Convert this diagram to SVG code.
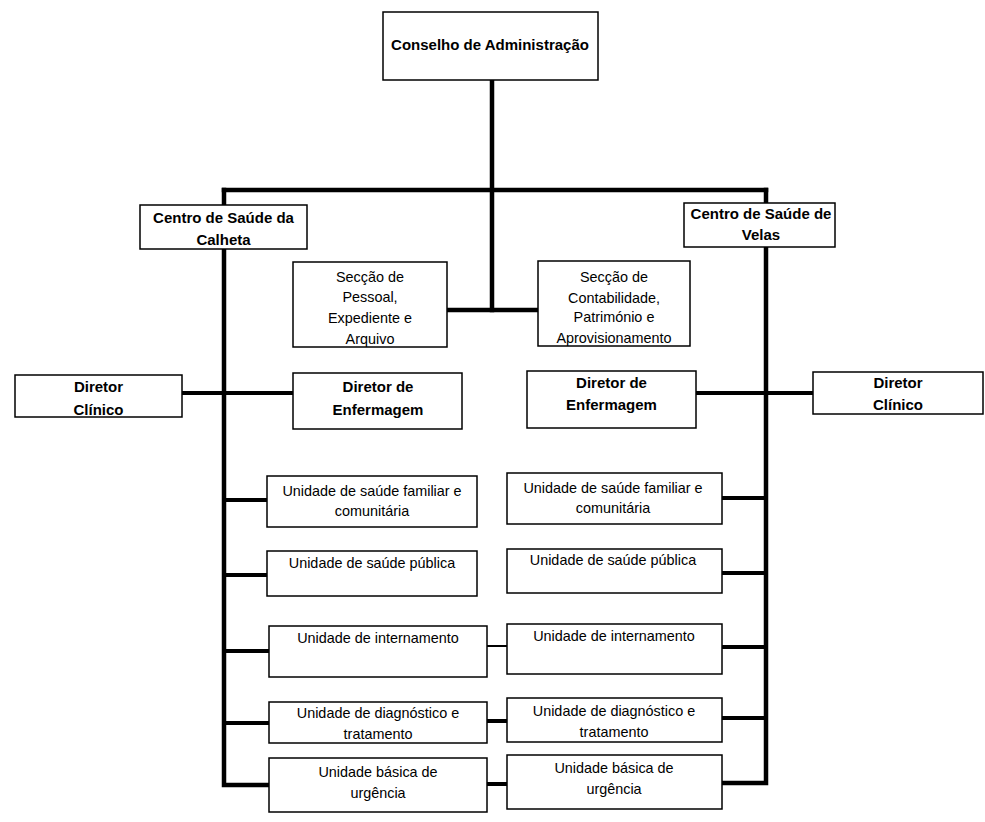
<svg xmlns="http://www.w3.org/2000/svg" width="985" height="822" viewBox="0 0 985 822">
<style>
.box{fill:#fff;stroke:#000;stroke-width:1.5}
.b{font-family:"Liberation Sans",Arial,sans-serif;font-weight:bold;font-size:15px;text-anchor:middle;fill:#000}
.r{font-family:"Liberation Sans",Arial,sans-serif;font-size:14.4px;text-anchor:middle;fill:#000}
.thick{fill:none;stroke:#000;stroke-width:4.5;stroke-linecap:square;stroke-linejoin:miter}
.med{fill:none;stroke:#000;stroke-width:4}
.thin{fill:none;stroke:#000;stroke-width:2}
</style>
<rect width="985" height="822" fill="#fff"/>
<g id="connectors">
<path class="thick" d="M492 80 V310"/>
<path class="thick" d="M224 190 H766"/>
<path class="thick" d="M224 190 V785 H269"/>
<path class="thick" d="M766 190 V783 H722"/>
<path class="thick" d="M447 310 H538"/>
<path class="med" d="M182 393 H293"/>
<path class="med" d="M696 393 H813"/>
<path class="med" d="M224 500 H267"/>
<path class="med" d="M224 575 H267"/>
<path class="med" d="M224 651 H269"/>
<path class="med" d="M224 723 H269"/>
<path class="med" d="M722 498 H766"/>
<path class="med" d="M722 573 H766"/>
<path class="med" d="M722 647 H766"/>
<path class="med" d="M722 718 H766"/>
<path class="thin" d="M487 646 H507"/>
<path class="med" d="M487 721 H507"/>
<path class="med" d="M487 784 H507"/>
</g>
<g id="conselho">
<rect class="box" x="383" y="12" width="215" height="68"/>
<text class="b" x="490" y="50">Conselho de Administração</text>
</g>
<g id="cs-calheta">
<rect class="box" x="140" y="205" width="167" height="44"/>
<text class="b" x="223.5" y="223">Centro de Saúde da</text>
<text class="b" x="223.5" y="245">Calheta</text>
</g>
<g id="cs-velas">
<rect class="box" x="684" y="203" width="151" height="44"/>
<text class="b" x="761" y="219">Centro de Saúde de</text>
<text class="b" x="761" y="240">Velas</text>
</g>
<g id="seccao-pessoal">
<rect class="box" x="293" y="262" width="154" height="85"/>
<text class="r" x="370" y="282">Secção de</text>
<text class="r" x="370" y="302">Pessoal,</text>
<text class="r" x="370" y="323">Expediente e</text>
<text class="r" x="370" y="344">Arquivo</text>
</g>
<g id="seccao-contabilidade">
<rect class="box" x="538" y="261" width="152" height="85"/>
<text class="r" x="614" y="282">Secção de</text>
<text class="r" x="614" y="303">Contabilidade,</text>
<text class="r" x="614" y="322">Património e</text>
<text class="r" x="614" y="343">Aprovisionamento</text>
</g>
<g id="diretor-clinico-calheta">
<rect class="box" x="15" y="375" width="167" height="42"/>
<text class="b" x="98.5" y="392">Diretor</text>
<text class="b" x="98.5" y="415">Clínico</text>
</g>
<g id="diretor-enfermagem-calheta">
<rect class="box" x="293" y="373" width="169" height="56"/>
<text class="b" x="378" y="392">Diretor de</text>
<text class="b" x="378" y="415">Enfermagem</text>
</g>
<g id="diretor-enfermagem-velas">
<rect class="box" x="527" y="371" width="169" height="57"/>
<text class="b" x="611.5" y="388">Diretor de</text>
<text class="b" x="611.5" y="410">Enfermagem</text>
</g>
<g id="diretor-clinico-velas">
<rect class="box" x="813" y="372" width="170" height="42"/>
<text class="b" x="898" y="388">Diretor</text>
<text class="b" x="898" y="410">Clínico</text>
</g>
<g id="usfc-calheta">
<rect class="box" x="267" y="476" width="210" height="51"/>
<text class="r" x="372" y="496">Unidade de saúde familiar e</text>
<text class="r" x="372" y="516">comunitária</text>
</g>
<g id="usfc-velas">
<rect class="box" x="507" y="473" width="215" height="51"/>
<text class="r" x="613" y="493">Unidade de saúde familiar e</text>
<text class="r" x="613" y="513">comunitária</text>
</g>
<g id="usp-calheta">
<rect class="box" x="267" y="551" width="210" height="45"/>
<text class="r" x="372" y="568">Unidade de saúde pública</text>
</g>
<g id="usp-velas">
<rect class="box" x="507" y="549" width="215" height="44"/>
<text class="r" x="613" y="565">Unidade de saúde pública</text>
</g>
<g id="ui-calheta">
<rect class="box" x="269" y="626" width="218" height="51"/>
<text class="r" x="378" y="643">Unidade de internamento</text>
</g>
<g id="ui-velas">
<rect class="box" x="507" y="624" width="215" height="50"/>
<text class="r" x="614" y="641">Unidade de internamento</text>
</g>
<g id="udt-calheta">
<rect class="box" x="269" y="702" width="218" height="41"/>
<text class="r" x="378" y="718">Unidade de diagnóstico e</text>
<text class="r" x="378" y="739">tratamento</text>
</g>
<g id="udt-velas">
<rect class="box" x="507" y="698" width="215" height="44"/>
<text class="r" x="614" y="716">Unidade de diagnóstico e</text>
<text class="r" x="614" y="737">tratamento</text>
</g>
<g id="ubu-calheta">
<rect class="box" x="269" y="758" width="218" height="54"/>
<text class="r" x="378" y="777">Unidade básica de</text>
<text class="r" x="378" y="798">urgência</text>
</g>
<g id="ubu-velas">
<rect class="box" x="507" y="755" width="215" height="54"/>
<text class="r" x="614" y="773">Unidade básica de</text>
<text class="r" x="614" y="794">urgência</text>
</g>
</svg>
